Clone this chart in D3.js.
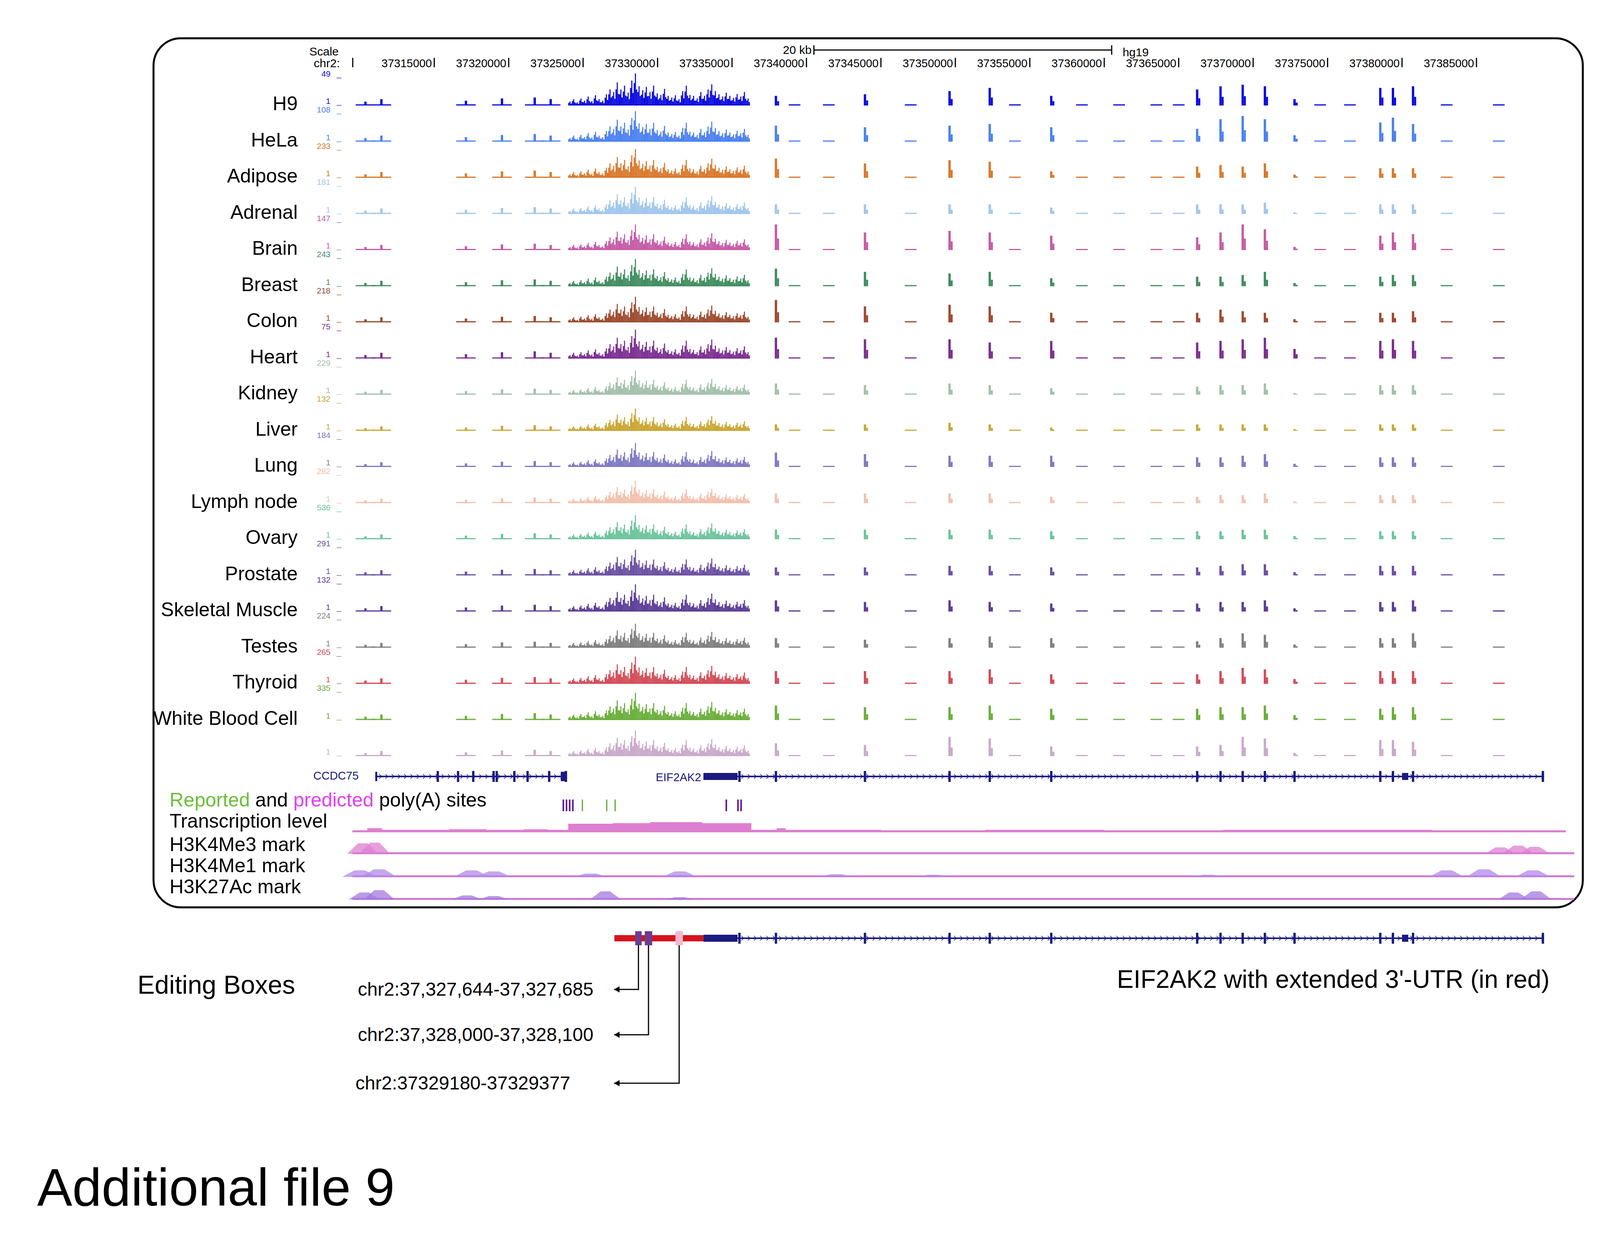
<!DOCTYPE html>
<html>
<head>
<meta charset="UTF-8">
<style>
  body { margin: 0; background: #fff; font-family: "Liberation Sans", Arial, sans-serif; }
  text { font-family: "Liberation Sans", Arial, sans-serif; }
</style>
</head>
<body>
<svg id="chart" width="4200" height="3163"></svg>
<script src="https://d3js.org/d3.v7.min.js"></script>
<script>
// ---- data ----
const tracks = ["H9","HeLa","Adipose","Adrenal","Brain","Breast","Colon","Heart","Kidney","Liver","Lung",
  "Lymph node","Ovary","Prostate","Skeletal Muscle","Testes","Thyroid","White Blood Cell",""];
const trackColors = ["#0a0ae0","#4a80f0","#d9782a","#9fc6ec","#c55aa6","#3f8c5f","#9b4a2e","#7a2e8f","#a2c0aa",
  "#c9a632","#7d79c2","#f2c0ae","#6cc39c","#6a4fa2","#5a3c96","#7f7f7f","#d24b57","#6aae3a","#c9a9c9"];
const trackMax = ["49","108","233","181","147","243","218","75","229","132","184","282","536","291","132","224","265","335",""];
// relative peak of dense region per track
const denseScale = [1.0,0.95,0.9,0.85,0.8,0.85,0.8,0.9,0.75,0.7,0.75,0.7,0.75,0.8,0.85,0.75,0.85,0.85,0.8];
const tickPos = [37315000,37320000,37325000,37330000,37335000,37340000,37345000,37350000,37355000,
  37360000,37365000,37370000,37375000,37380000,37385000];
// dense signal over EIF2AK2 3' region, 37324000-37336200
const denseStart = 37324000, denseEnd = 37336200;
const denseProfile = [0.12,0.2,0.1,0.22,0.15,0.28,0.14,0.32,0.2,0.15,0.35,0.5,0.42,0.72,0.5,0.62,0.4,0.78,1.0,0.6,
  0.48,0.58,0.42,0.62,0.38,0.33,0.52,0.3,0.25,0.32,0.2,0.45,0.62,0.33,0.3,0.22,0.42,0.3,0.5,0.66,
  0.45,0.35,0.28,0.4,0.3,0.24,0.36,0.28,0.42,0.22];
// exon peaks downstream
const exonPos = [37337950,37343930,37349610,37352310,37356440,37366240,37367810,37369300,37370790,37372780,37378540,37379390,37380740];
const exonHeights = [
  [0.3,0.35,0.45,0.55,0.3,0.5,0.6,0.65,0.6,0.2,0.55,0.55,0.6],
  [0.5,0.45,0.5,0.55,0.45,0.4,0.7,0.8,0.7,0.2,0.6,0.75,0.55],
  [0.6,0.45,0.55,0.5,0.2,0.35,0.4,0.35,0.45,0.1,0.3,0.3,0.3],
  [0.3,0.3,0.3,0.3,0.2,0.3,0.3,0.3,0.35,0.05,0.3,0.3,0.3],
  [0.8,0.55,0.6,0.55,0.45,0.4,0.55,0.8,0.65,0.1,0.45,0.55,0.5],
  [0.55,0.45,0.4,0.45,0.25,0.3,0.3,0.35,0.45,0.1,0.3,0.35,0.35],
  [0.7,0.5,0.55,0.5,0.3,0.3,0.4,0.35,0.3,0.1,0.3,0.3,0.35],
  [0.65,0.6,0.6,0.5,0.55,0.5,0.55,0.6,0.65,0.3,0.55,0.6,0.55],
  [0.35,0.3,0.35,0.3,0.2,0.25,0.3,0.3,0.35,0.05,0.3,0.3,0.3],
  [0.2,0.2,0.25,0.2,0.1,0.2,0.2,0.2,0.2,0.05,0.2,0.2,0.2],
  [0.45,0.4,0.35,0.35,0.35,0.3,0.3,0.35,0.4,0.1,0.3,0.3,0.3],
  [0.3,0.3,0.3,0.3,0.2,0.2,0.25,0.25,0.3,0.05,0.25,0.25,0.25],
  [0.3,0.3,0.3,0.3,0.25,0.25,0.25,0.3,0.3,0.1,0.25,0.25,0.25],
  [0.25,0.25,0.3,0.3,0.25,0.25,0.3,0.35,0.35,0.1,0.3,0.3,0.3],
  [0.35,0.3,0.35,0.3,0.25,0.25,0.3,0.3,0.35,0.1,0.3,0.3,0.35],
  [0.3,0.25,0.3,0.35,0.3,0.2,0.3,0.45,0.4,0.1,0.3,0.3,0.45],
  [0.4,0.4,0.4,0.45,0.3,0.3,0.4,0.5,0.45,0.15,0.4,0.4,0.4],
  [0.45,0.4,0.4,0.45,0.35,0.35,0.4,0.4,0.45,0.15,0.35,0.4,0.4],
  [0.4,0.35,0.6,0.55,0.3,0.3,0.35,0.6,0.55,0.1,0.5,0.5,0.45]];
// small peaks upstream (CCDC75 region) and sparse small bumps downstream
const upPos = [37310380,37311450,37317130,37319550,37321750,37322820];
const upRel = [0.12,0.2,0.15,0.22,0.25,0.2];
const smallPos = [37339200,37341500,37347000,37354000,37358500,37361000,37363500,37365000,37374500,37376500,37383000,37386500];

const ccdc75 = {start: 37311040, end: 37323900, exons: [37315240,37316600,37317620,37318990,37319200,37320380,37321270,37322720,37323845]};
const eif2ak2 = {start: 37333080, thickEnd: 37335370, end: 37389540};
const polyAReported = [37324950,37326585,37327150];
const polyAPredicted = [37323671,37323884,37324097,37324310,37334616,37335400,37335610];

// [position, height]
const txLevel = [[37309500,0.2],[37310500,0.4],[37311500,0.25],[37316000,0.3],[37318500,0.25],[37321000,0.3],
  [37322600,0.25],[37324000,0.85],[37327000,0.9],[37329500,1.0],[37333000,0.9],[37336300,0.25],[37338000,0.4],
  [37338600,0.25],[37345000,0.2],[37352000,0.25],[37360000,0.2],[37368000,0.25],[37375000,0.25],[37382000,0.2],[37391000,0.2]];
const h3k4me3 = [[37310200,0.9],[37311000,0.95],[37386600,0.55],[37387800,0.7],[37388900,0.6]];
const h3k4me1 = [[37310000,0.6],[37311300,0.7],[37317500,0.6],[37319000,0.5],[37325500,0.3],[37331500,0.5],
  [37342000,0.25],[37348500,0.2],[37367000,0.2],[37383000,0.6],[37385500,0.7],[37388800,0.6]];
const h3k27ac = [[37310300,0.6],[37311300,0.8],[37317200,0.35],[37319000,0.3],[37326500,0.7],[37331500,0.2],
  [37387500,0.6],[37389000,0.7]];

const editBoxes = [[37328500,37328930,"#6a3d8f"],[37329140,37329640,"#6a3d8f"],[37331200,37331700,"#f2b9cf"]];
const editLabels = ["chr2:37,327,644-37,327,685","chr2:37,328,000-37,328,100","chr2:37329180-37329377"];

// ---- drawing ----
const svg = d3.select("#chart");
const x = d3.scaleLinear().domain([37309500, 37389650]).range([902, 3957]);
const y0 = 270, rowH = 92.5, trackH = 82;

svg.append("rect").attr("x", 393).attr("y", 98).attr("width", 3659).attr("height", 2224)
  .attr("rx", 70).attr("fill", "none").attr("stroke", "#000").attr("stroke-width", 5);

// scale header
svg.append("text").attr("x", 792).attr("y", 142).attr("font-size", 30).text("Scale");
svg.append("text").attr("x", 870).attr("y", 172).attr("font-size", 30).attr("text-anchor", "end").text("chr2:");
svg.append("line").attr("x1", 903).attr("x2", 903).attr("y1", 148).attr("y2", 172).attr("stroke", "#000").attr("stroke-width", 3);
tickPos.forEach(t => {
  svg.append("line").attr("x1", x(t)).attr("x2", x(t)).attr("y1", 148).attr("y2", 172).attr("stroke", "#000").attr("stroke-width", 3);
  svg.append("text").attr("x", x(t) - 6).attr("y", 172).attr("font-size", 29).attr("text-anchor", "end").text(t);
});
const sbL = x(37340500), sbR = x(37360500);
svg.append("line").attr("x1", sbL).attr("x2", sbR).attr("y1", 128).attr("y2", 128).attr("stroke", "#000").attr("stroke-width", 3);
[sbL, sbR].forEach(v => svg.append("line").attr("x1", v).attr("x2", v).attr("y1", 116).attr("y2", 140).attr("stroke", "#000").attr("stroke-width", 3));
svg.append("text").attr("x", sbL - 6).attr("y", 138).attr("font-size", 30).attr("text-anchor", "end").text("20 kb");
svg.append("text").attr("x", sbR + 28).attr("y", 144).attr("font-size", 30).text("hg19");

// signal tracks
const binW = (denseEnd - denseStart) / denseProfile.length;
tracks.forEach((name, i) => {
  const base = y0 + i * rowH;
  const c = trackColors[i];
  const g = svg.append("g");
  const h = v => v * trackH;
  g.append("rect").attr("x", x(denseStart)).attr("width", x(denseEnd) - x(denseStart)).attr("y", base - 3).attr("height", 3).attr("fill", c);
  denseProfile.forEach((v, k) => {
    const xs = x(denseStart + k * binW), xw = x(denseStart + (k + 1) * binW) - xs;
    const hh = h(v * denseScale[i]);
    g.append("rect").attr("x", xs).attr("width", xw * 0.35).attr("y", base - hh * 0.7).attr("height", hh * 0.7).attr("fill", c);
    g.append("rect").attr("x", xs + xw * 0.35).attr("width", xw * 0.3).attr("y", base - hh).attr("height", hh).attr("fill", c);
    g.append("rect").attr("x", xs + xw * 0.65).attr("width", xw * 0.35).attr("y", base - hh * 0.5).attr("height", hh * 0.5).attr("fill", c);
  });
  exonPos.forEach((p, k) => {
    const hh = h(exonHeights[i][k]);
    g.append("rect").attr("x", x(p) - 3).attr("width", 6).attr("y", base - hh).attr("height", hh).attr("fill", c);
    g.append("rect").attr("x", x(p) + 3).attr("width", 5).attr("y", base - hh * 0.45).attr("height", hh * 0.45).attr("fill", c);
  });
  upPos.forEach((p, k) => {
    const hh = h(upRel[k] * denseScale[i]);
    g.append("rect").attr("x", x(p) - 3).attr("width", 6).attr("y", base - hh).attr("height", hh).attr("fill", c);
    g.append("rect").attr("x", x(p) - 25).attr("width", 50).attr("y", base - 3).attr("height", 3).attr("fill", c);
  });
  smallPos.forEach(p => g.append("rect").attr("x", x(p) - 15).attr("width", 30).attr("y", base - 3).attr("height", 3).attr("fill", c));
  if (name) svg.append("text").attr("x", 762).attr("y", base + 12).attr("font-size", 50).attr("text-anchor", "end").text(name);
  svg.append("text").attr("x", 846).attr("y", base - 4).attr("font-size", 21).attr("text-anchor", "end").attr("fill", c).text("1");
  svg.append("text").attr("x", 862).attr("y", base - 4).attr("font-size", 21).attr("fill", c).text("_");
  if (trackMax[i]) {
    svg.append("text").attr("x", 846).attr("y", base - rowH + 18).attr("font-size", 21).attr("text-anchor", "end").attr("fill", c).text(trackMax[i]);
    svg.append("text").attr("x", 862).attr("y", base - rowH + 18).attr("font-size", 21).attr("fill", c).text("_");
  }
});

// gene models
const navy = "#1a1a80";
function chevrons(g, a, b, yy) {
  for (let p = x(a) + 10; p < x(b) - 6; p += 16)
    g.append("path").attr("d", `M${p},${yy - 6}L${p + 6},${yy}L${p},${yy + 6}`).attr("fill", "none").attr("stroke", navy).attr("stroke-width", 1.5);
}
function gene(yy, withRed) {
  const g = svg.append("g");
  g.append("line").attr("x1", x(eif2ak2.thickEnd)).attr("x2", x(eif2ak2.end)).attr("y1", yy).attr("y2", yy).attr("stroke", navy).attr("stroke-width", 4);
  chevrons(g, eif2ak2.thickEnd, eif2ak2.end, yy);
  if (withRed) g.append("rect").attr("x", x(37327100)).attr("width", x(eif2ak2.start) - x(37327100)).attr("y", yy - 8).attr("height", 16).attr("fill", "#d7141c");
  g.append("rect").attr("x", x(eif2ak2.start)).attr("width", x(eif2ak2.thickEnd) - x(eif2ak2.start)).attr("y", yy - 9).attr("height", 18).attr("fill", navy);
  exonPos.concat([x.invert(x(eif2ak2.end) - 3), 37335500]).forEach(p =>
    g.append("rect").attr("x", x(p) - 3).attr("width", 6).attr("y", yy - 14).attr("height", 28).attr("fill", navy));
  g.append("rect").attr("x", x(37380000)).attr("width", 16).attr("y", yy - 9).attr("height", 18).attr("fill", navy);
  return g;
}
const gy = 1987;
const cg = svg.append("g");
cg.append("line").attr("x1", x(ccdc75.start)).attr("x2", x(ccdc75.end)).attr("y1", gy).attr("y2", gy).attr("stroke", navy).attr("stroke-width", 4);
chevrons(cg, ccdc75.start, ccdc75.end, gy);
cg.append("rect").attr("x", x(ccdc75.start)).attr("width", 5).attr("y", gy - 12).attr("height", 24).attr("fill", navy);
ccdc75.exons.forEach(p => cg.append("rect").attr("x", x(p) - 3).attr("width", 6).attr("y", gy - 14).attr("height", 28).attr("fill", navy));
cg.append("rect").attr("x", x(37323500)).attr("width", 14).attr("y", gy - 12).attr("height", 24).attr("fill", navy);
svg.append("text").attr("x", 802).attr("y", gy + 8).attr("font-size", 29).attr("fill", navy).text("CCDC75");
gene(gy, false);
svg.append("text").attr("x", x(eif2ak2.start) - 6).attr("y", gy + 12).attr("font-size", 29).attr("fill", navy).attr("text-anchor", "end").text("EIF2AK2");

// poly(A)
const py = 2060;
const pt = svg.append("text").attr("x", 434).attr("y", 2064).attr("font-size", 50);
pt.append("tspan").attr("fill", "#6cbf3a").text("Reported");
pt.append("tspan").text(" and ");
pt.append("tspan").attr("fill", "#e040ee").text("predicted");
pt.append("tspan").text(" poly(A) sites");
polyAReported.forEach(p => svg.append("rect").attr("x", x(p) - 1.5).attr("width", 3).attr("y", py - 14).attr("height", 30).attr("fill", "#5aa832"));
polyAPredicted.forEach(p => svg.append("rect").attr("x", x(p) - 2).attr("width", 4).attr("y", py - 14).attr("height", 30).attr("fill", "#5a1a9a"));

// lower signal tracks
const lowEnd = 4030;
function lowTrack(label, peaks, base, hmax, color, ly, width) {
  svg.append("text").attr("x", 434).attr("y", ly).attr("font-size", 50).text(label);
  const g = svg.append("g");
  g.append("rect").attr("x", 902).attr("width", lowEnd - 902).attr("y", base - 4).attr("height", 5).attr("fill", "#d07ad6");
  peaks.forEach(([p, v]) => {
    const w = width;
    g.append("path").attr("d", `M${x(p) - w},${base}L${x(p) - w * 0.3},${base - v * hmax}L${x(p) + w * 0.3},${base - v * hmax}L${x(p) + w},${base}Z`)
      .attr("fill", color).attr("opacity", 0.75);
  });
}
const txArea = d3.area().x(d => Math.min(x(d[0]), lowEnd)).y0(2130).y1(d => 2130 - d[1] * 26).curve(d3.curveStepAfter);
svg.append("path").datum(txLevel).attr("d", txArea).attr("fill", "#dd7fd0");
svg.append("text").attr("x", 434).attr("y", 2118).attr("font-size", 50).text("Transcription level");
lowTrack("H3K4Me3 mark", h3k4me3, 2185, 30, "#dd7fd0", 2178, 40);
lowTrack("H3K4Me1 mark", h3k4me1, 2244, 28, "#b08ae8", 2232, 45);
lowTrack("H3K27Ac mark", h3k27ac, 2302, 30, "#a478e0", 2286, 40);

// bottom extended gene
const by = 2401;
gene(by, true);
editBoxes.forEach(([a, b, c]) => svg.append("rect").attr("x", x(a)).attr("width", x(b) - x(a)).attr("y", by - 18).attr("height", 36).attr("fill", c));
svg.append("text").attr("x", 352).attr("y", 2543).attr("font-size", 66).text("Editing Boxes");
svg.append("text").attr("x", 3967).attr("y", 2528).attr("font-size", 64).attr("text-anchor", "end").text("EIF2AK2 with extended 3'-UTR (in red)");
const arrowY = [2532, 2648, 2772];
editBoxes.forEach(([a, b], k) => {
  const vx = (x(a) + x(b)) / 2, ay = arrowY[k];
  svg.append("path").attr("d", `M${vx},${by + 18}V${ay}H${1572}`).attr("fill", "none").attr("stroke", "#000").attr("stroke-width", 3);
  svg.append("path").attr("d", `M1572,${ay}l14,-8v16z`).attr("fill", "#000");
  svg.append("text").attr("x", k < 2 ? 916 : 910).attr("y", ay + 16).attr("font-size", 48).text(editLabels[k]);
});

svg.append("text").attr("x", 95).attr("y", 3085).attr("font-size", 135).text("Additional file 9");
</script>
</body>
</html>
